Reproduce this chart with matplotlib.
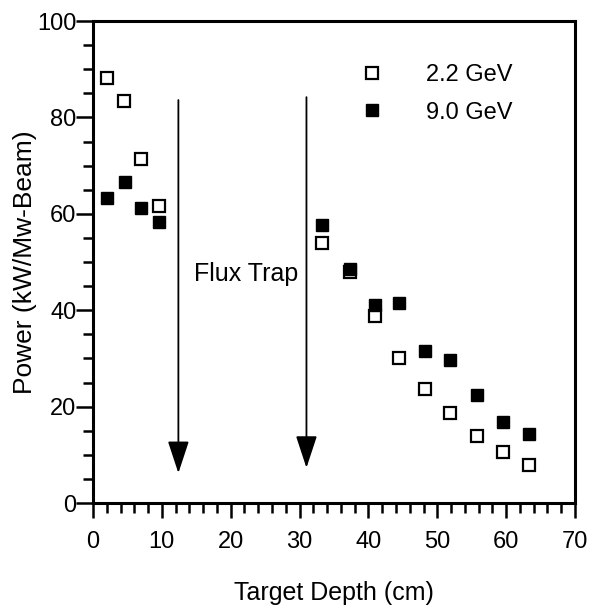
import matplotlib
matplotlib.use("Agg")
import matplotlib.pyplot as plt
from matplotlib.ticker import MultipleLocator

# depth positions (cm) and power (kW/MW-beam)
depth_22 = [2.0, 4.5, 6.9, 9.6, 33.3, 37.3, 40.9, 44.5, 48.2, 51.9, 55.7, 59.5, 63.3]
power_22 = [88.1, 83.4, 71.3, 61.7, 53.9, 48.0, 38.8, 30.1, 23.7, 18.7, 13.9, 10.6, 7.9]

depth_90 = [2.1, 4.6, 7.0, 9.6, 33.3, 37.3, 40.9, 44.5, 48.2, 51.9, 55.7, 59.5, 63.3]
power_90 = [63.2, 66.7, 61.3, 58.2, 57.7, 48.6, 41.1, 41.5, 31.5, 29.7, 22.4, 16.9, 14.3]

labels = ["2.2 GeV", "9.0 GeV"]

# flux trap arrows: x position, top, tip
arrow_x = [12.4, 31.0]
arrow_top = [83.6, 84.2]
arrow_tip = [6.2, 7.3]

plt.rcParams['font.family'] = ['Liberation Sans', 'DejaVu Sans']

fig = plt.figure(figsize=(5.93, 6.13), dpi=100)
ax = fig.add_axes([93 / 593, 1 - 503 / 613, 482 / 593, 482 / 613])

ax.plot(depth_22, power_22, ls='none', marker='s', ms=8, mfc='white',
        mec='black', mew=1.6, label=labels[0], zorder=3)
ax.plot(depth_90, power_90, ls='none', marker='s', ms=8.5, mfc='black',
        mec='black', mew=1.0, label=labels[1], zorder=4)

for x, top, tip in zip(arrow_x, arrow_top, arrow_tip):
    ax.annotate('', xy=(x, tip), xytext=(x, top),
                arrowprops=dict(arrowstyle='-|>,head_length=1.0,head_width=0.33',
                                mutation_scale=20, color='black', lw=1.3,
                                shrinkA=0, shrinkB=0))

ax.text(14.6, 47.5, 'Flux Trap', fontsize=18, va='center', ha='left')

ax.set_xlim(0, 70)
ax.set_ylim(0, 100)
ax.xaxis.set_major_locator(MultipleLocator(10))
ax.xaxis.set_minor_locator(MultipleLocator(2))
ax.yaxis.set_major_locator(MultipleLocator(20))
ax.yaxis.set_minor_locator(MultipleLocator(5))

for s in ax.spines.values():
    s.set_linewidth(2.2)

ax.tick_params(axis='both', which='both', direction='out', width=1.8,
               top=False, right=False)
ax.tick_params(axis='x', which='major', length=11, pad=9, labelsize=17)
ax.tick_params(axis='x', which='minor', length=7)
ax.tick_params(axis='y', which='major', length=12, pad=0, labelsize=17)
ax.tick_params(axis='y', which='minor', length=7)

ax.set_xlabel('Target Depth (cm)', fontsize=18)
ax.set_ylabel('Power (kW/Mw-Beam)', fontsize=19)
ax.xaxis.set_label_coords(0.5, -0.187)
ax.yaxis.set_label_coords(-0.141, 0.5)
ax.xaxis.label.set_va('center')
ax.yaxis.label.set_va('center')

ax.legend(loc='upper left', bbox_to_anchor=(0.554, 0.91), frameon=False,
          fontsize=17, handlelength=1.0, handletextpad=1.8, labelspacing=0.65,
          borderpad=0, borderaxespad=0)

fig.savefig('out.png', dpi=100)
